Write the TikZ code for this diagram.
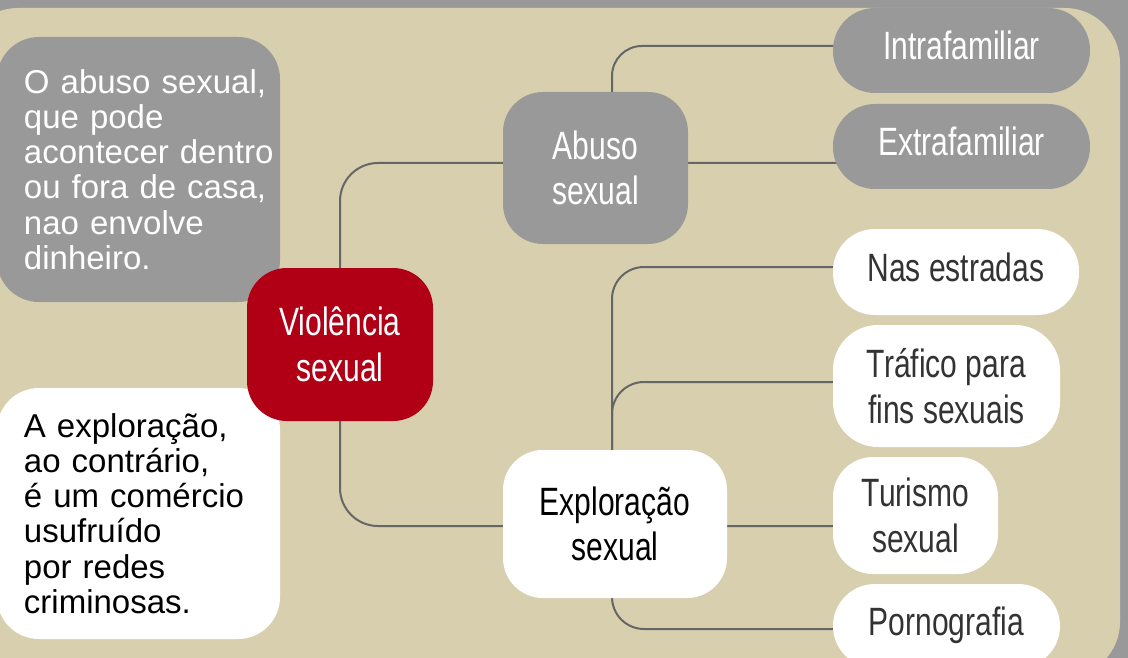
\documentclass[tikz,border=0pt]{standalone}
\usepackage{fontspec}
\setmainfont{Liberation Sans}
\newfontfamily\condfont[FakeStretch=0.76]{Liberation Sans}
\usetikzlibrary{calc}
\definecolor{frame}{HTML}{999999}
\definecolor{sand}{HTML}{D8CFAF}
\definecolor{boxgray}{HTML}{999999}
\definecolor{wine}{HTML}{B10016}
\definecolor{wiregray}{HTML}{666666}
\definecolor{ink}{HTML}{333333}
\pgfdeclarelayer{back}
\pgfsetlayers{back,main}

\begin{document}
\begin{tikzpicture}[x=1pt,y=-1pt,
  tag/.style={rounded corners=40pt,inner sep=0pt,align=center,
    font=\condfont\fontsize{39.5}{45.5}\selectfont},
  pill/.style={tag,rounded corners=42pt,text depth=10pt},
  grey/.style={fill=boxgray,text=white},
  blank/.style={fill=white,text=ink},
  note/.style={rounded corners=42pt,inner sep=0pt,text width=283pt,align=left,
    font=\fontsize{33}{35.2}\selectfont},
  link/.style={draw=wiregray,line width=2pt,rounded corners=#1},
  link/.default=32pt]
  \useasboundingbox (0,0) rectangle (1128,658);
  \coordinate (trunk) at (612,0);
  % side notes
  \node[note,grey,minimum height=265pt] (notaabuso) at (138.5,169.5)
    {\leftskip=27pt O abuso sexual,\\que pode\\acontecer dentro\\ou fora de casa,\\nao envolve\\dinheiro.\par};
  \node[note,fill=white,text=black,minimum height=251pt] (notaexpl) at (138.5,513.5)
    {\leftskip=27pt A exploração,\\ao contrário,\\é um comércio\\usufruído\\por redes\\criminosas.\par};
  % tree
  \node[tag,fill=wine,text=white,minimum width=186pt,minimum height=153pt] (viol) at (340,344.5) {Violência\\sexual};
  \node[tag,grey,minimum width=185pt,minimum height=152pt] (abuso) at (595.5,168) {Abuso\\sexual};
  \node[tag,blank,text=black,minimum width=224pt,minimum height=148pt] (explor) at (615,524) {Exploração\\sexual};
  \node[pill,grey,minimum width=257pt,minimum height=85pt] (intra) at (961.5,50.5) {Intrafamiliar};
  \node[pill,grey,minimum width=257pt,minimum height=85pt] (extra) at (961.5,146.5) {Extrafamiliar};
  \node[pill,blank,minimum width=246pt,minimum height=86pt] (estradas) at (956,272) {Nas estradas};
  \node[tag,blank,rounded corners=45pt,minimum width=227pt,minimum height=122pt] (trafico) at (946.5,386) {Tráfico para\\fins sexuais};
  \node[tag,blank,minimum width=165pt,minimum height=117pt] (turismo) at (915.5,515.5) {Turismo\\sexual};
  \node[pill,blank,minimum width=227pt,minimum height=84pt] (porno) at (946.5,626) {Pornografia};
  \begin{pgfonlayer}{back}
    \fill[frame] (0,0) rectangle (1128,658);
    \fill[sand,rounded corners=55pt] (-37,8) rectangle (1120,677);
    \draw[link=38pt] (viol.north) |- ([yshift=5pt]abuso.center) -- ([yshift=5pt]abuso.center -| extra.center);
    \draw[link=38pt] (viol.south) |- ([yshift=-2pt]explor.center) -- ([yshift=-2pt]explor.center -| turismo.center);
    \draw[link=30pt] (abuso.center -| trunk) |- ([yshift=4.5pt]intra.center);
    \draw[link] (explor.center -| trunk) |- ([yshift=5pt]estradas.center);
    \draw[link] (explor.center -| trunk) |- ([yshift=4pt]trafico.center);
    \draw[link] (explor.center -| trunk) |- ([yshift=-3pt]porno.center);
  \end{pgfonlayer}
\end{tikzpicture}
\end{document}
